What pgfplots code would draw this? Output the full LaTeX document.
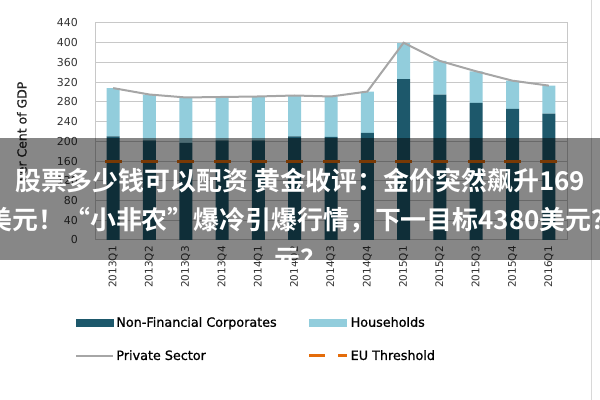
\documentclass[border=0pt]{standalone}
\usepackage{fontspec}
\setmainfont{DejaVu Sans}
\newfontfamily\cjk{Noto Sans CJK SC Bold}
\newfontfamily\boldish[FakeBold=1]{DejaVu Sans}
\usepackage{pgfplots}
\pgfplotsset{compat=1.18}
\definecolor{nfc}{HTML}{1D586B}
\definecolor{hh}{HTML}{92CDDC}
\definecolor{privgray}{HTML}{A6A6A6}
\definecolor{euorange}{HTML}{E46C0A}
\definecolor{gridgray}{HTML}{C8C8C8}

\begin{document}
\begin{tikzpicture}
\path[use as bounding box] (0bp,0bp) rectangle (600bp,400bp);
\draw[gridgray!70, line width=1bp] (591bp,0bp) -- (591bp,400bp);

% bars
\begin{axis}[
    at={(95bp,160bp)}, anchor=south west,
    scale only axis, width=472bp, height=217bp,
    xmin=-0.5, xmax=12.5, ymin=0, ymax=440,
    ytick={0,40,...,440},
    xtick={0,...,12},
    xticklabels={2013Q1,2013Q2,2013Q3,2013Q4,2014Q1,2014Q2,2014Q3,2014Q4,2015Q1,2015Q2,2015Q3,2015Q4,2016Q1},
    major tick length=0pt,
    ymajorgrids, grid style={color=gridgray, line width=1bp},
    axis line style={color=gridgray, line width=1bp},
    /pgf/number format/assume math mode=true,
    tick label style={font=\fontsize{11}{12}\selectfont, text=black!80, inner sep=0pt},
    yticklabel shift=17bp,
    xticklabel style={rotate=90, anchor=east, font=\fontsize{10.5}{12}\selectfont},
    xticklabel shift=6bp,
    ylabel={Per Cent of GDP},
    ylabel style={at={(axis description cs:-0.155,0.5)}, anchor=center,
        font=\boldish\fontsize{12.5}{14}\selectfont, text=black!85},
    ybar stacked, bar width=13bp,
]
% Non-Financial Corporates
\addplot[fill=nfc, draw=none] coordinates {
    (0,210) (1,202) (2,197) (3,202) (4,202) (5,210) (6,209)
    (7,217) (8,326) (9,295) (10,278) (11,266) (12,256)};
% Households
\addplot[fill=hh, draw=none] coordinates {
    (0,98) (1,93) (2,92) (3,88) (4,89) (5,83) (6,82)
    (7,84) (8,73) (9,68) (10,64) (11,57) (12,57)};
\end{axis}

% lines and legend
\begin{axis}[
    at={(95bp,160bp)}, anchor=south west,
    scale only axis, width=472bp, height=217bp,
    xmin=-0.5, xmax=12.5, ymin=0, ymax=440,
    hide axis,
    legend columns=2,
    legend cell align=left,
    legend style={at={(axis description cs:-0.042,-0.345)}, anchor=north west,
        draw=none, fill=none, inner sep=0pt,
        font=\boldish\fontsize{12.8}{14}\selectfont,
        row sep=18bp, nodes={inner sep=2bp},
        /tikz/every even column/.append style={column sep=29bp}},
]
\addlegendimage{legend image code/.code={\fill[nfc] (0bp,-3.5bp) rectangle (37bp,3.5bp);}}
\addlegendimage{legend image code/.code={\fill[hh] (0bp,-3.5bp) rectangle (37bp,3.5bp);}}
% Private Sector
\addplot[color=privgray, line width=2bp, mark=none,
    legend image code/.code={\draw[privgray, line width=2bp] (0bp,0bp) -- (37bp,0bp);}]
    coordinates {
    (0,308) (1,295) (2,289) (3,290) (4,291) (5,293) (6,291)
    (7,301) (8,400) (9,363) (10,342) (11,323) (12,313)};
% EU Threshold
\addplot[color=euorange, line width=3bp, only marks, mark=-, mark size=8.5bp,
    legend image code/.code={\draw[euorange, line width=3bp] (0bp,0bp) -- (16bp,0bp) (29bp,0bp) -- (38bp,0bp);}]
    coordinates {
    (0,160) (1,160) (2,160) (3,160) (4,160) (5,160) (6,160)
    (7,160) (8,160) (9,160) (10,160) (11,160) (12,160)};
\legend{Non-Financial Corporates, Households, Private Sector, EU Threshold}
\end{axis}

% overlay banner
\fill[black, opacity=0.47] (0bp,140bp) rectangle (600bp,262bp);
\node[anchor=base, text=white, inner sep=0pt, font=\cjk\fontsize{26}{30}\selectfont]
    at (300bp,209bp) {股票多少钱可以配资 黄金收评：金价突然飙升169};
\node[anchor=base, text=white, inner sep=0pt, font=\cjk\fontsize{26}{30}\selectfont]
    at (302bp,170bp) {美元！“小非农”爆冷引爆行情，下一目标4380美元？};
\node[anchor=base, text=white, inner sep=0pt, font=\cjk\fontsize{26}{30}\selectfont]
    at (300bp,131bp) {元？};
\end{tikzpicture}
\end{document}
